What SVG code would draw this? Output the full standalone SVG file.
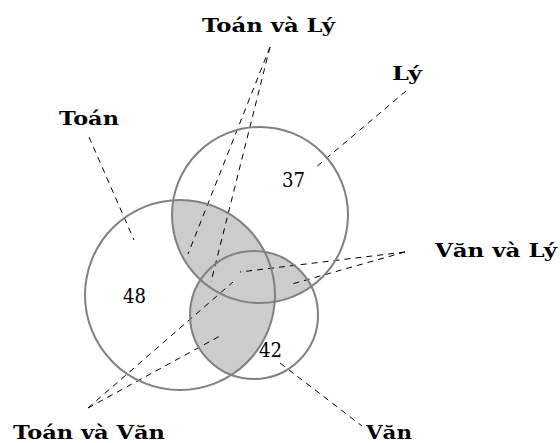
<svg xmlns="http://www.w3.org/2000/svg" width="560" height="443" viewBox="0 0 560 443">
<style>
text{font-family:"DejaVu Serif",serif}
.lbl{font-weight:bold;font-size:19px;fill:#000}
.num{font-size:20px;fill:#000}
.circ{fill:none;stroke:#808080;stroke-width:2}
.lens{fill:#cccccc;stroke:none}
.dash{stroke:#000;stroke-width:1;stroke-dasharray:6 5;fill:none}
</style>
<defs>
<clipPath id="cT"><circle cx="180" cy="295" r="95"/></clipPath>
<clipPath id="cL"><circle cx="260" cy="215" r="88"/></clipPath>
</defs>
<rect width="560" height="443" fill="#fff"/>
<g id="shading">
<circle class="lens" cx="260" cy="215" r="88" clip-path="url(#cT)"/>
<circle class="lens" cx="254" cy="315" r="64" clip-path="url(#cT)"/>
<circle class="lens" cx="254" cy="315" r="64" clip-path="url(#cL)"/>
</g>
<g id="connectors">
<line class="dash" x1="89" y1="137" x2="134" y2="240"/>
<line class="dash" x1="406" y1="91" x2="315" y2="168"/>
<line class="dash" x1="270" y1="47" x2="188" y2="254"/>
<line class="dash" x1="270" y1="47" x2="211" y2="282"/>
<line class="dash" x1="405" y1="252" x2="240" y2="272"/>
<line class="dash" x1="405" y1="252" x2="292" y2="284"/>
<line class="dash" x1="88" y1="408" x2="233" y2="282"/>
<line class="dash" x1="88" y1="408" x2="220" y2="336"/>
<line class="dash" x1="280" y1="363" x2="362" y2="426"/>
</g>
<g id="toan">
<circle class="circ" cx="180" cy="295" r="95"/>
<text class="num" x="123" y="303" textLength="23" lengthAdjust="spacingAndGlyphs">48</text>
<text class="lbl" x="59" y="125" textLength="60" lengthAdjust="spacingAndGlyphs">Toán</text>
</g>
<g id="ly">
<circle class="circ" cx="260" cy="215" r="88"/>
<text class="num" x="282" y="187" textLength="23" lengthAdjust="spacingAndGlyphs">37</text>
<text class="lbl" x="392" y="80" textLength="30" lengthAdjust="spacingAndGlyphs">Lý</text>
</g>
<g id="van">
<circle class="circ" cx="254" cy="315" r="64"/>
<text class="num" x="259" y="357" textLength="23" lengthAdjust="spacingAndGlyphs">42</text>
<text class="lbl" x="366" y="439" textLength="46" lengthAdjust="spacingAndGlyphs">Văn</text>
</g>
<g id="toan-va-ly">
<text class="lbl" x="202" y="32" textLength="133" lengthAdjust="spacingAndGlyphs">Toán và Lý</text>
</g>
<g id="van-va-ly">
<text class="lbl" x="435" y="257" textLength="122" lengthAdjust="spacingAndGlyphs">Văn và Lý</text>
</g>
<g id="toan-va-van">
<text class="lbl" x="13" y="439" textLength="152" lengthAdjust="spacingAndGlyphs">Toán và Văn</text>
</g>
</svg>
